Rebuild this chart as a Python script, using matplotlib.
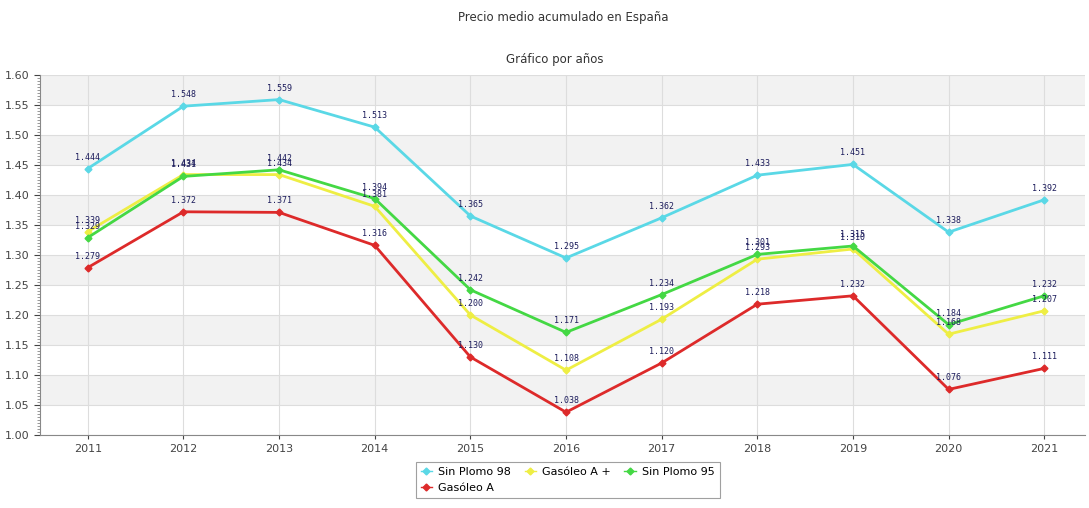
import numpy as np
import matplotlib
matplotlib.use('Agg')
import matplotlib.pyplot as plt
from matplotlib.ticker import MultipleLocator

years = [2011, 2012, 2013, 2014, 2015, 2016, 2017, 2018, 2019, 2020, 2021]

sp98 = [1.444, 1.548, 1.559, 1.513, 1.365, 1.295, 1.362, 1.433, 1.451, 1.338, 1.392]
gas_a_plus = [1.339, 1.434, 1.434, 1.381, 1.200, 1.108, 1.193, 1.293, 1.310, 1.168, 1.207]
sp95 = [1.329, 1.431, 1.442, 1.394, 1.242, 1.171, 1.234, 1.301, 1.315, 1.184, 1.232]
gas_a = [1.279, 1.372, 1.371, 1.316, 1.130, 1.038, 1.120, 1.218, 1.232, 1.076, 1.111]

series = [
    ('Sin Plomo 98', sp98, '#5ad8e6'),
    ('Gasóleo A +', gas_a_plus, '#eeee44'),
    ('Sin Plomo 95', sp95, '#44d844'),
    ('Gasóleo A', gas_a, '#dd2a2a'),
]

fig = plt.figure(figsize=(10.89, 5.08), dpi=100)
ax = fig.add_axes([0.0367, 0.1437, 0.96, 0.7087])

# alternating bands
for k in range(12):
    lo = 1.0 + 0.05 * k
    if k % 2 == 1:
        ax.axhspan(lo, lo + 0.05, color='#f2f2f2', zorder=0, lw=0)

handles = {}
for name, vals, col in series:
    ln, = ax.plot(years, vals, color=col, lw=2, marker='D', ms=3.5, label=name, zorder=3)
    handles[name] = ln
    for x, v in zip(years, vals):
        ax.annotate('%.3f' % v, (x, v), xytext=(0, 5), textcoords='offset points',
                    ha='center', va='bottom', fontsize=6, family='DejaVu Sans Mono',
                    color='#1c1c5c', zorder=4)

ax.set_xlim(2010.5, 2021.43)
ax.set_ylim(1.0, 1.6)
ax.set_xticks(years)
ax.yaxis.set_major_locator(MultipleLocator(0.05))
ax.yaxis.set_minor_locator(MultipleLocator(0.005))
ax.yaxis.set_major_formatter(matplotlib.ticker.FormatStrFormatter('%.2f'))
ax.grid(True, which='major', color='#dddddd', lw=0.8, zorder=1)
ax.set_axisbelow(True)
ax.tick_params(axis='both', labelsize=8, colors='#444444', length=3)
ax.tick_params(axis='y', which='minor', length=2, color='#888888')
ax.tick_params(axis='y', which='major', length=4)
for s in ['top', 'right']:
    ax.spines[s].set_visible(False)
for s in ['left', 'bottom']:
    ax.spines[s].set_color('#888888')

fig.text(0.517, 0.965, 'Precio medio acumulado en España', ha='center', va='center',
         fontsize=8.5, color='#333333')
fig.text(0.509, 0.883, 'Gráfico por años', ha='center', va='center',
         fontsize=8.5, color='#333333')

# row-major order in the legend
order = ['Sin Plomo 98', 'Gasóleo A', 'Gasóleo A +', 'Sin Plomo 95']
leg = fig.legend([handles[n] for n in order], order, loc='upper left',
                 bbox_to_anchor=(0.3765, 0.102), ncol=3, fontsize=8,
                 frameon=True, fancybox=False, edgecolor='#888888', handlelength=1.0,
                 columnspacing=1.2, borderpad=0.45, labelspacing=0.55, handletextpad=0.6)
leg.get_frame().set_linewidth(0.8)
for h in leg.legend_handles:
    h.set_linewidth(1)

fig.savefig('out.png', dpi=100)
